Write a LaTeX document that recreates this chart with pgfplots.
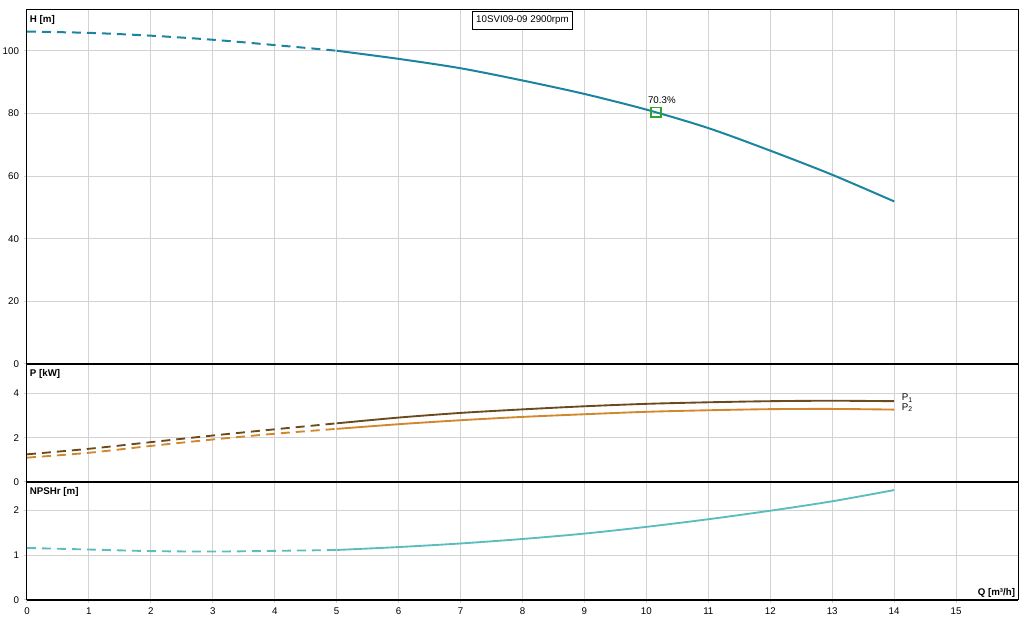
\documentclass[border=0pt]{standalone}
\usepackage{pgfplots}
\pgfplotsset{compat=1.18}
\usepackage{fontspec}
\setmainfont{Liberation Sans}
\definecolor{hcol}{HTML}{1B84A0}
\definecolor{pone}{HTML}{6B4A1E}
\definecolor{ptwo}{HTML}{D2872C}
\definecolor{npcol}{HTML}{5DBDBD}
\definecolor{gridc}{HTML}{D3D3D3}
\definecolor{effc}{HTML}{2EA52E}
\newcommand{\sm}{\fontsize{7.3}{9}\selectfont}
\pgfplotsset{
  pan/.style={
    scale only axis, width=743.25pt, xmin=0, xmax=16, xtick={0,...,15},
    grid=major, major grid style={gridc, line width=0.75pt},
    axis line style={black, line width=0.75pt},
    tick align=outside, major tick length=2.5pt,
    tick style={gridc, line width=0.75pt},
    ytick pos=left, xtick pos=bottom,
    ticklabel style={font=\sm},
    /pgf/number format/assume math mode=true,
    clip=false,
  },
  dsh/.style={dash pattern=on 6.75pt off 4.5pt},
}
\tikzset{plab/.style={font=\sm\bfseries, anchor=north west, inner sep=2pt, yshift=-2pt}}
\begin{document}
\begin{tikzpicture}
% ---------- H panel ----------
\begin{axis}[pan, at={(20.25pt,192pt)}, anchor=south west, height=265.5pt,
  ymin=0, ymax=113, ytick={0,20,...,100}, xticklabels={}, xtick style={draw=none}]
\addplot[hcol, line width=1.5pt, dsh, smooth] coordinates {
 (0,106.1) (1,105.7) (2,104.8) (3,103.5) (4,101.8) (5,100.0)};
\addplot[hcol, line width=1.5pt, smooth] coordinates {
 (5,100.0) (6,97.4) (7,94.4) (8,90.5) (9,86.2) (10,81.2) (11,75.3) (12,68.1) (13,60.4) (14,51.9)};
\addplot[only marks, mark=square, mark size=3.7pt, mark options={effc, line width=1.4pt}] coordinates {(10.15,80.3)};
\node[font=\sm, anchor=south, inner sep=1pt] at (axis cs:10.25,82.6) {70.3\%};
\node[plab] at (rel axis cs:0,1) {H [m]};
\node[font=\sm, anchor=north, draw=black, fill=white, line width=0.6pt, inner xsep=3pt, minimum height=13.5pt, yshift=-0.75pt] at (rel axis cs:0.5,1) {10SVI09-09 2900rpm};
\end{axis}
% ---------- P panel ----------
\begin{axis}[pan, at={(20.25pt,103.5pt)}, anchor=south west, height=88.5pt,
  ymin=0, ymax=5.33, ytick={0,2,4}, xticklabels={}, xtick style={draw=none}]
\addplot[pone, line width=1.4pt, dsh, smooth] coordinates {
 (0,1.25) (1,1.50) (2,1.80) (3,2.10) (4,2.38) (5,2.65)};
\addplot[pone, line width=1.4pt, smooth] coordinates {
 (5,2.65) (6,2.91) (7,3.12) (8,3.28) (9,3.42) (10,3.53) (11,3.60) (12,3.65) (13,3.67) (14,3.65)};
\addplot[ptwo, line width=1.4pt, dsh, smooth] coordinates {
 (0,1.10) (1,1.32) (2,1.63) (3,1.92) (4,2.18) (5,2.40)};
\addplot[ptwo, line width=1.4pt, smooth] coordinates {
 (5,2.40) (6,2.61) (7,2.79) (8,2.94) (9,3.06) (10,3.17) (11,3.24) (12,3.29) (13,3.30) (14,3.27)};
\node[font=\sm, anchor=west, inner sep=1pt] at (axis cs:14.1,3.78) {P\textsubscript{1}};
\node[font=\sm, anchor=west, inner sep=1pt] at (axis cs:14.1,3.36) {P\textsubscript{2}};
\node[plab] at (rel axis cs:0,1) {P [kW]};
\end{axis}
% ---------- NPSHr panel ----------
\begin{axis}[pan, at={(20.25pt,15pt)}, anchor=south west, height=88.5pt,
  ymin=0, ymax=2.63, ytick={0,1,2}]
\addplot[npcol, line width=1.4pt, dsh, smooth] coordinates {
 (0,1.16) (1,1.125) (2,1.09) (3,1.08) (4,1.095) (5,1.115)};
\addplot[npcol, line width=1.4pt, smooth] coordinates {
 (5,1.115) (6,1.18) (7,1.26) (8,1.36) (9,1.48) (10,1.63) (11,1.80) (12,1.99) (13,2.20) (14,2.45)};
\node[plab] at (rel axis cs:0,1) {NPSHr [m]};
\node[font=\sm\bfseries, anchor=south east, inner sep=2pt] at (rel axis cs:1,0) {Q [m³/h]};
\end{axis}
\draw[line width=1.8pt] (20.25pt,192pt) -- (763.5pt,192pt);
\draw[line width=1.8pt] (20.25pt,103.5pt) -- (763.5pt,103.5pt);
\draw[line width=1.2pt] (20.25pt,15pt) -- (763.5pt,15pt);
\pgfresetboundingbox
\path (0pt,0pt) rectangle (775.5pt,465pt);
\end{tikzpicture}
\end{document}
